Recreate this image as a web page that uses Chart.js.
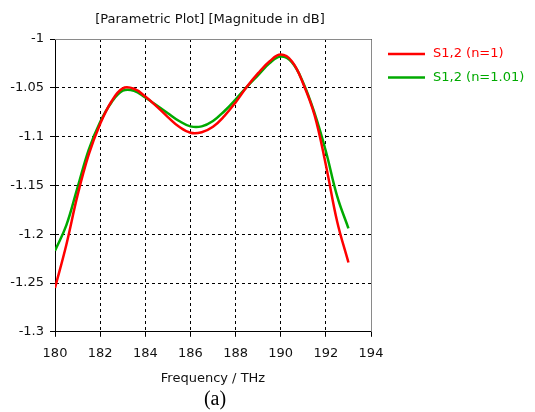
<!DOCTYPE html>
<html>
<head>
<meta charset="utf-8">
<script src="https://cdn.jsdelivr.net/npm/chart.js@4"></script>
<style>
  html, body { margin: 0; padding: 0; background: #fff; }
</style>
</head>
<body>
<canvas id="chart" width="535" height="412"></canvas>
<script>
// ===============================
// Dati
// ===============================

// Frequenze (THz)
const freq = [180, 180.5, 181, 181.5, 182, 182.5, 183, 183.5, 184, 184.5, 185, 185.5, 186, 186.5,
              187, 187.5, 188, 188.5, 189, 189.5, 190, 190.5, 191, 191.5, 192, 192.5, 193];

// S1,2 (n=1) in dB
const s12n1 = [-1.255, -1.211, -1.160, -1.118, -1.087, -1.064, -1.0505, -1.051, -1.059, -1.069,
               -1.080, -1.090, -1.096, -1.0955, -1.090, -1.079, -1.065, -1.049, -1.035, -1.023,
               -1.016, -1.023, -1.046, -1.078, -1.129, -1.187, -1.229];

// S1,2 (n=1.01) in dB
const s12n101 = [-1.217, -1.191, -1.152, -1.113, -1.085, -1.065, -1.053, -1.053, -1.060, -1.068,
                 -1.076, -1.084, -1.0895, -1.0895, -1.084, -1.074, -1.062, -1.049, -1.037, -1.025,
                 -1.018, -1.024, -1.045, -1.076, -1.115, -1.161, -1.194];

// Etichette assi
const xTicks = [180, 182, 184, 186, 188, 190, 192, 194];
const yTicks = [-1.3, -1.25, -1.2, -1.15, -1.1, -1.05, -1];

const seriesLabels = ["S1,2 (n=1)", "S1,2 (n=1.01)"];
const chartTitle = "[Parametric Plot] [Magnitude in dB]";
const caption = "(a)";
const FONT = "DejaVu Sans";

// Titolo sopra e didascalia sotto, centrati sull'area del grafico
const titles = {
    id: "titles",
    afterDraw(chart) {
        const a = chart.chartArea;
        const cx = (a.left + a.right) / 2;
        const ctx = chart.ctx;
        ctx.save();
        ctx.textAlign = "center";
        ctx.textBaseline = "middle";
        ctx.fillStyle = "#111";
        ctx.font = "13px '" + FONT + "'";
        ctx.fillText(chartTitle, cx - 3, 20);
        ctx.fillStyle = "#000";
        ctx.font = "20px 'Liberation Serif'";
        ctx.fillText(caption, cx + 2, 400);
        ctx.restore();
    }
};

// Legenda a destra (linea + testo colorato)
const sideLegend = {
    id: "sideLegend",
    afterDraw(chart) {
        const ctx = chart.ctx;
        chart.data.datasets.forEach((ds, i) => {
            const y = 54 + i * 23.5;
            ctx.save();
            ctx.strokeStyle = ds.borderColor;
            ctx.lineWidth = 2.5;
            ctx.beginPath();
            ctx.moveTo(388, y);
            ctx.lineTo(425, y);
            ctx.stroke();
            ctx.fillStyle = ds.borderColor;
            ctx.font = "13px '" + FONT + "'";
            ctx.textBaseline = "middle";
            ctx.fillText(ds.label, 433, y);
            ctx.restore();
        });
    }
};

// Bordo superiore e destro del riquadro
const frameBorder = {
    id: "frameBorder",
    afterDraw(chart) {
        const a = chart.chartArea;
        const ctx = chart.ctx;
        ctx.save();
        ctx.strokeStyle = "#8a8a8a";
        ctx.lineWidth = 1;
        ctx.beginPath();
        ctx.moveTo(a.left, a.top + 0.5);
        ctx.lineTo(a.right + 0.5, a.top + 0.5);
        ctx.lineTo(a.right + 0.5, a.bottom);
        ctx.stroke();
        ctx.restore();
    }
};

const toPoints = ys => freq.map((f, i) => ({ x: f, y: ys[i] }));

const gridOpts = {
    color: "#000",
    lineWidth: 1,
    tickBorderDash: [],
    tickColor: "#000",
    tickLength: 5,
    drawTicks: true
};
const borderOpts = { display: true, color: "#000", width: 1, dash: [3, 3] };

new Chart(document.getElementById("chart"), {
    type: "line",
    data: {
        datasets: [
            {
                label: seriesLabels[0],
                data: toPoints(s12n1),
                borderColor: "#ff0000",
                borderWidth: 2.5,
                pointRadius: 0,
                tension: 0.4
            },
            {
                label: seriesLabels[1],
                data: toPoints(s12n101),
                borderColor: "#00aa00",
                borderWidth: 2.5,
                pointRadius: 0,
                tension: 0.4
            }
        ]
    },
    options: {
        responsive: false,
        animation: false,
        layout: { padding: { left: 0, right: 164, top: 39, bottom: 26 } },
        plugins: {
            legend: { display: false },
            tooltip: { enabled: false }
        },
        scales: {
            x: {
                type: "linear",
                min: 180,
                max: 194,
                afterBuildTicks: s => { s.ticks = xTicks.map(v => ({ value: v })); },
                grid: gridOpts,
                border: borderOpts,
                ticks: {
                    color: "#111",
                    padding: 9,
                    maxRotation: 0,
                    font: { family: FONT, size: 13 }
                },
                title: {
                    display: true,
                    text: "Frequency / THz",
                    color: "#111",
                    font: { family: FONT, size: 13 },
                    padding: { top: 0, bottom: 0 }
                }
            },
            y: {
                type: "linear",
                min: -1.3,
                max: -1,
                afterBuildTicks: s => { s.ticks = yTicks.map(v => ({ value: v })); },
                afterFit: s => { s.width = 55; },
                grid: gridOpts,
                border: borderOpts,
                ticks: {
                    color: "#111",
                    padding: 6,
                    font: { family: FONT, size: 13 },
                    callback: v => String(Math.round(v * 100) / 100)
                }
            }
        }
    },
    plugins: [titles, sideLegend, frameBorder]
});
</script>
</body>
</html>
